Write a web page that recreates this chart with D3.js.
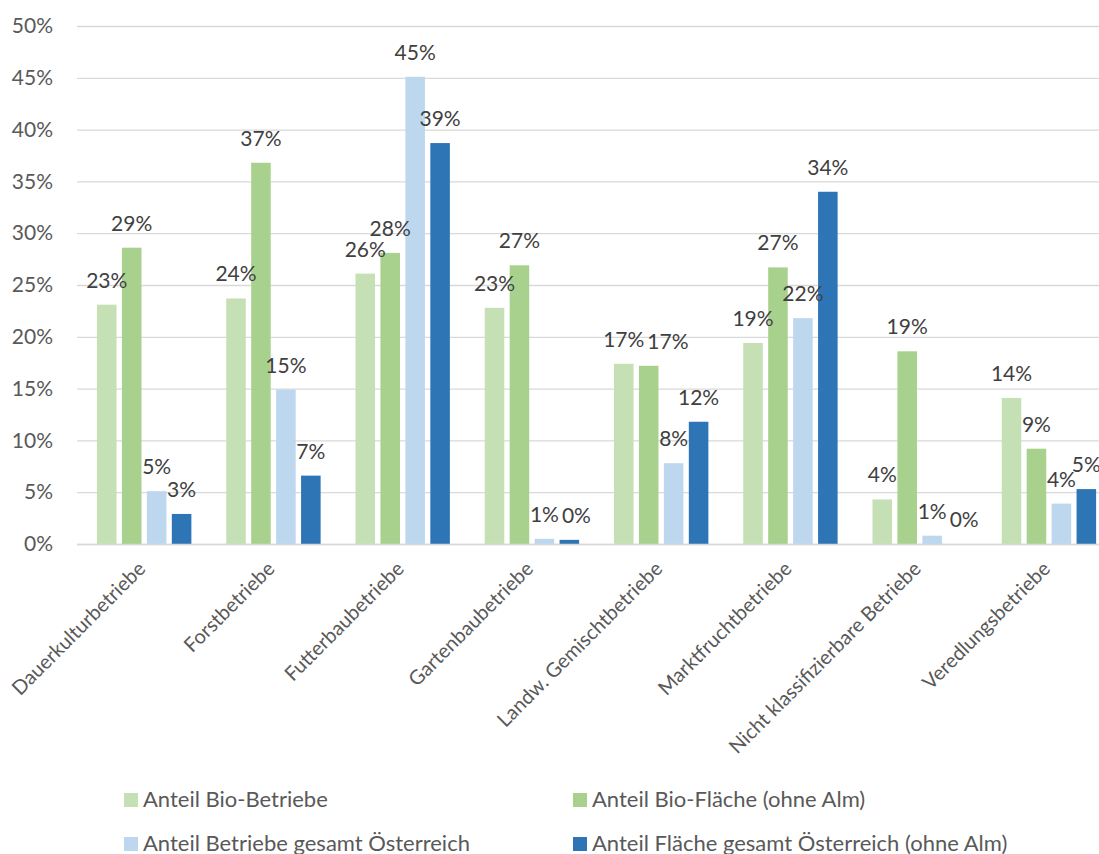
<!DOCTYPE html>
<html><head><meta charset="utf-8">
<script src="https://cdn.jsdelivr.net/npm/d3@7"></script>
<style>
html,body{margin:0;padding:0;background:#fff;}
svg{display:block;font-family:"Lato",sans-serif;}
</style></head>
<body><svg id="chart" width="1099" height="854"></svg>
<script>
const categories = ["Dauerkulturbetriebe","Forstbetriebe","Futterbaubetriebe","Gartenbaubetriebe","Landw. Gemischtbetriebe","Marktfruchtbetriebe","Nicht klassifizierbare Betriebe","Veredlungsbetriebe"];
const seriesNames = ["Anteil Bio-Betriebe","Anteil Bio-Fläche (ohne Alm)","Anteil Betriebe gesamt Österreich","Anteil Fläche gesamt Österreich (ohne Alm)"];
const bioBetriebe   = [0.231,0.237,0.261,0.228,0.174,0.194,0.043,0.141];
const bioFlaeche    = [0.286,0.368,0.281,0.269,0.172,0.267,0.186,0.092];
const betriebeGesamt= [0.051,0.149,0.451,0.005,0.078,0.218,0.008,0.039];
const flaecheGesamt = [0.029,0.066,0.387,0.004,0.118,0.340,0.000,0.053];
const yTicks = [0,0.05,0.10,0.15,0.20,0.25,0.30,0.35,0.40,0.45,0.50];
const colors = ["#C5E0B4","#A9D18E","#BDD7EE","#2E75B6"];

const series = [bioBetriebe,bioFlaeche,betriebeGesamt,flaecheGesamt];
const svg = d3.select("#chart");
const pLeft = 77, pRight = 1111, pTop = 26, pBottom = 544;

const x = d3.scaleBand().domain(categories).range([pLeft,pRight]).paddingInner(0).paddingOuter(0);
const barW = 18.5, barStep = 23.6;
const x1 = d3.scaleBand().domain(d3.range(4)).range([0, barStep*4]).paddingInner((barStep-barW)/barStep).paddingOuter(0);
const y = d3.scaleLinear().domain([0,0.5]).range([pBottom,pTop]);
const fmt = d3.format(".0%");

// gridlines
const yAxis = d3.axisLeft(y).tickValues(yTicks).tickFormat(fmt).tickSize(-(pRight-pLeft)).tickPadding(24);
const gy = svg.append("g").attr("transform",`translate(${pLeft},0)`).call(yAxis);
gy.select(".domain").remove();
gy.selectAll(".tick line").attr("stroke","#d9d9d9").attr("stroke-width",1.3);
gy.selectAll(".tick text").attr("fill","#595959").style("font-size","21px").style("font-family","Lato");

// bars
const groups = svg.append("g").selectAll("g").data(categories).join("g")
  .attr("transform",d=>`translate(${x(d)+x.bandwidth()/2-barStep*2+ (barStep-barW)/2},0)`);
groups.each(function(cat,ci){
  const g = d3.select(this);
  series.forEach((s,si)=>{
    const v = s[ci];
    g.append("rect").attr("x",x1(si)).attr("width",x1.bandwidth())
      .attr("y",y(v)).attr("height",pBottom-y(v)).attr("fill",colors[si]);
  });
});
// baseline
svg.append("line").attr("x1",pLeft).attr("x2",pRight).attr("y1",pBottom+0.5).attr("y2",pBottom+0.5).attr("stroke","#d9d9d9").attr("stroke-width",1.5);

// data labels (outside end, nudged right when they collide with the previous one)
groups.each(function(cat,ci){
  const g = d3.select(this);
  let prev = null;
  series.forEach((s,si)=>{
    const v = s[ci];
    let cx = x1(si)+x1.bandwidth()/2;
    const ty = y(v)-17;
    const t = g.append("text").attr("x",cx).attr("y",ty)
      .attr("text-anchor","middle").attr("fill","#404040").style("font-size","21px")
      .text(fmt(v));
    const w = t.node().getComputedTextLength();
    if (prev && Math.abs(prev.y-ty) < 14 && (cx - w/2) < prev.right + 3) {
      cx = prev.right + 3 + w/2;
      t.attr("x",cx);
    }
    prev = {y:ty, right:cx + w/2};
  });
});

// category labels
svg.append("g").selectAll("text").data(categories).join("text")
  .attr("transform",d=>`translate(${x(d)+x.bandwidth()/2+5},${pBottom+26}) rotate(-45)`)
  .attr("text-anchor","end").attr("fill","#595959").style("font-size","20px").text(d=>d);

// legend
const legPos = [[124,793],[573,793],[124,837],[573,837]];
const leg = svg.append("g").selectAll("g").data(seriesNames).join("g")
  .attr("transform",(d,i)=>`translate(${legPos[i][0]},${legPos[i][1]})`);
leg.append("rect").attr("width",14).attr("height",14).attr("fill",(d,i)=>colors[i]);
leg.append("text").attr("x",19).attr("y",14).attr("fill","#595959").style("font-size","22px").text(d=>d);
</script></body></html>
